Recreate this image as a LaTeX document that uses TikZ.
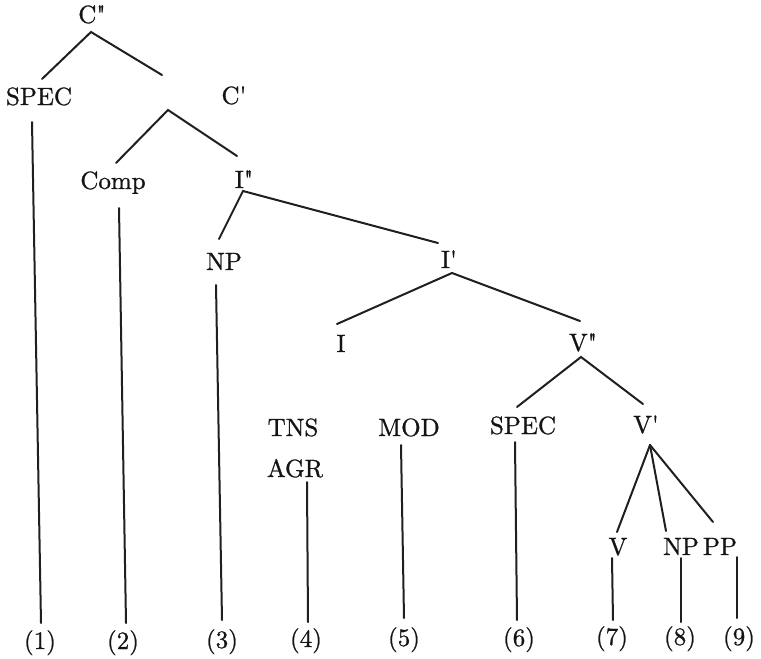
\documentclass[tikz,border=0pt]{standalone}
\usepackage{fontspec}
\newfontfamily\treefont{lmroman10-regular.otf}[FakeBold=0.9]
\newcommand\mkone{'}
\newcommand\mktwo{"}
\tikzset{
  lab/.style={font=\treefont\fontsize{25}{30}\selectfont, anchor=base, inner sep=0pt, text=black!92},
  edge/.style={line width=2pt, line cap=round, black!88}
}
\begin{document}
\begin{tikzpicture}[x=1pt,y=-1pt]
\useasboundingbox (0,0) rectangle (761,659);
% nodes
\node[lab] (Cpp)   at (92,23)   {C\mktwo};
\node[lab] (SPECa) at (39,105)  {SPEC};
\node[lab] (Cp)    at (234,104) {C\mkone};
\node[lab] (Comp)  at (113,189) {Comp};
\node[lab] (Ipp)   at (244,188) {I\mktwo};
\node[lab] (NPa)   at (224,270) {NP};
\node[lab] (Ip)    at (449,268) {I\mkone};
\node[lab] (Ia)    at (341,352) {I};
\node[lab] (TNS)   at (293,436) {TNS};
\node[lab] (AGR)   at (295,477) {AGR};
\node[lab] (MOD)   at (409,436) {MOD};
\node[lab] (Vpp)   at (583,351) {V\mktwo};
\node[lab] (SPECb) at (523,434) {SPEC};
\node[lab] (Vp)    at (646,433) {V\mkone};
\node[lab] (Va)    at (618,555) {V};
\node[lab] (NPb)   at (681,555) {NP};
\node[lab] (PP)    at (720,555) {PP};
\node[lab] (L1) at (40,649)  {(1)};
\node[lab] (L2) at (123,649) {(2)};
\node[lab] (L3) at (222,648) {(3)};
\node[lab] (L4) at (306,647) {(4)};
\node[lab] (L5) at (404,646) {(5)};
\node[lab] (L6) at (519,646) {(6)};
\node[lab] (L7) at (612,645) {(7)};
\node[lab] (L8) at (680,645) {(8)};
\node[lab] (L9) at (739,645) {(9)};
% branches
\draw[edge] ([shift={(-72,-29)}]Cp.base) -- ([shift={(-1,9)}]Cpp.base) -- ([shift={(3,-26)}]SPECa.base);
\draw[edge] ([shift={(-7,-32)}]Ipp.base) -- ([shift={(-66,6)}]Cp.base) -- ([shift={(3,-26)}]Comp.base);
\draw[edge] ([shift={(-11,-25)}]Ip.base) -- ([shift={(-1,3)}]Ipp.base) -- ([shift={(-5,-31)}]NPa.base);
\draw[edge] ([shift={(-3,-30)}]Vpp.base) -- ([shift={(3,5)}]Ip.base) -- ([shift={(-4,-28)}]Ia.base);
\draw[edge] ([shift={(-3,-29)}]Vp.base) -- ([shift={(-2,6)}]Vpp.base) -- ([shift={(-6,-27)}]SPECb.base);
\draw[edge] ([shift={(4,12)}]Vp.base) -- ([shift={(-1,-23)}]Va.base);
\draw[edge] ([shift={(4,12)}]Vp.base) -- ([shift={(-15,-24)}]NPb.base);
\draw[edge] ([shift={(4,12)}]Vp.base) -- ([shift={(-7,-33)}]PP.base);
% stems
\draw[edge] ([shift={(-7,17)}]SPECa.base) -- ([shift={(1,-26)}]L1.base);
\draw[edge] ([shift={(6,19)}]Comp.base) -- ([shift={(3,-26)}]L2.base);
\draw[edge] ([shift={(-8,15)}]NPa.base) -- ([shift={(0,-28)}]L3.base);
\draw[edge] ([shift={(12,5)}]AGR.base) -- ([shift={(2,-25)}]L4.base);
\draw[edge] ([shift={(-8,9)}]MOD.base) -- ([shift={(0,-28)}]L5.base);
\draw[edge] ([shift={(-8,8)}]SPECb.base) -- ([shift={(-2,-26)}]L6.base);
\draw[edge] ([shift={(-6,3)}]Va.base) -- ([shift={(1,-25)}]L7.base);
\draw[edge] ([shift={(0,3)}]NPb.base) -- ([shift={(1,-23)}]L8.base);
\draw[edge] ([shift={(17,2)}]PP.base) -- ([shift={(-2,-27)}]L9.base);
\end{tikzpicture}
\end{document}
